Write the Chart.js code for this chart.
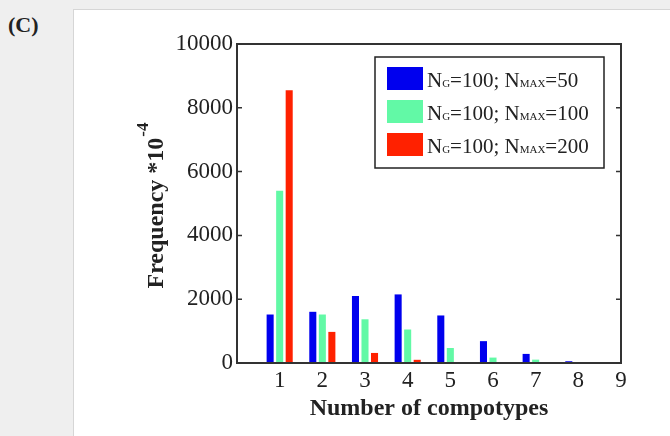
<!DOCTYPE html>
<html>
<head>
<meta charset="utf-8">
<script src="https://cdn.jsdelivr.net/npm/chart.js@4.4.1/dist/chart.umd.min.js"></script>
<style>
  html, body { margin: 0; padding: 0; }
  body { width: 670px; height: 436px; background: #efefef; position: relative; overflow: hidden; }
  #label { position: absolute; left: 8px; top: 12px; font: bold 22px "Liberation Serif", serif; color: #222; }
  #panel { position: absolute; left: 73px; top: 9px; width: 597px; height: 427px; background: #fff;
           border-left: 1px solid #d6d6d6; border-top: 1px solid #d6d6d6; }
  #panel canvas { position: absolute; left: 0; top: 0; }
</style>
</head>
<body>
<div id="label">(C)</div>
<div id="panel"><canvas id="grafica" width="597" height="427"></canvas></div>
<script>
// --- datos ---
const categorias = [1, 2, 3, 4, 5, 6, 7, 8, 9];
const nmax50  = [1520, 1605, 2100, 2150, 1490, 685, 285, 55, 10];
const nmax100 = [5400, 1520, 1370, 1050, 470, 170, 105, 30, 5];
const nmax200 = [8550, 975, 315, 100, 10, 0, 0, 0, 0];
const ticksY = [0, 2000, 4000, 6000, 8000, 10000];

const series = [
  { nmax: '50',  valores: nmax50,  color: '#0000ee' },
  { nmax: '100', valores: nmax100, color: '#62f9a6' },
  { nmax: '200', valores: nmax200, color: '#ff2100' }
];

const fuente = '"Liberation Serif", "DejaVu Serif", serif';

// caja, marcas interiores, leyenda y titulo del eje Y (estilo MATLAB)
const estiloMatlab = {
  id: 'estiloMatlab',
  afterDatasetsDraw(chart) {
    const { ctx, chartArea: a, scales } = chart;
    ctx.save();
    // caja
    ctx.strokeStyle = '#333';
    ctx.lineWidth = 2;
    ctx.strokeRect(a.left, a.top, a.right - a.left, a.bottom - a.top);
    // marcas en Y (izquierda y derecha, hacia dentro)
    ctx.lineWidth = 1.5;
    ticksY.forEach(v => {
      const y = scales.y.getPixelForValue(v);
      ctx.beginPath();
      ctx.moveTo(a.left, y); ctx.lineTo(a.left + 5, y);
      ctx.moveTo(a.right, y); ctx.lineTo(a.right - 5, y);
      ctx.stroke();
    });

    // leyenda
    const w = 229, h = 111;
    const bx = a.right - 17 - w, by = a.top + 13;
    ctx.fillStyle = '#fff';
    ctx.fillRect(bx, by, w, h);
    ctx.strokeStyle = '#222';
    ctx.lineWidth = 1.5;
    ctx.strokeRect(bx, by, w, h);
    series.forEach((s, i) => {
      const ry = by + 10 + i * 33;
      ctx.fillStyle = s.color;
      ctx.fillRect(bx + 12, ry, 36, 23);
      let x = bx + 52;
      const base = ry + 20;
      const partes = [
        ['N', 21], ['G', 11], ['=100; N', 21], ['MAX', 11], ['=' + s.nmax, 21]
      ];
      ctx.fillStyle = '#222';
      ctx.textBaseline = 'alphabetic';
      ctx.textAlign = 'left';
      partes.forEach(p => {
        ctx.font = p[1] + 'px ' + fuente;
        ctx.fillText(p[0], x, base);
        x += ctx.measureText(p[0]).width;
      });
    });

    // titulo eje Y con exponente
    ctx.translate(80, 196);
    ctx.rotate(-Math.PI / 2);
    ctx.fillStyle = '#222';
    ctx.font = 'bold 24px ' + fuente;
    const t1 = 'Frequency *10';
    const w1 = ctx.measureText(t1).width;
    ctx.font = 'bold 17px ' + fuente;
    const t2 = '-4';
    const w2 = ctx.measureText(t2).width;
    const x0 = -(w1 + w2) / 2;
    ctx.textBaseline = 'alphabetic';
    ctx.textAlign = 'left';
    ctx.font = 'bold 24px ' + fuente;
    ctx.fillText(t1, x0, 9);
    ctx.font = 'bold 17px ' + fuente;
    ctx.fillText(t2, x0 + w1 + 1, -6);
    ctx.restore();
  }
};

const ctx = document.getElementById('grafica').getContext('2d');

const miGrafica = new Chart(ctx, {
  type: 'bar',
  data: {
    datasets: series.map(s => ({
      label: 'NG=100; NMAX=' + s.nmax,
      data: categorias.map((c, i) => ({ x: c, y: s.valores[i] })),
      backgroundColor: s.color,
      borderWidth: 0,
      categoryPercentage: 0.67,
      barPercentage: 0.74
    }))
  },
  options: {
    responsive: false,
    animation: false,
    layout: { padding: { top: 34, right: 50, left: 0, bottom: 0 } },
    plugins: {
      legend: { display: false },
      tooltip: { enabled: false }
    },
    scales: {
      x: {
        type: 'linear',
        min: 0,
        max: 9,
        offset: false,
        grid: { display: false, drawTicks: false, offset: false },
        border: { display: false },
        ticks: {
          stepSize: 1,
          padding: 4,
          color: '#222',
          font: { family: fuente, size: 23 },
          callback: v => (v === 0 ? '' : String(v))
        },
        title: {
          display: true,
          text: 'Number of compotypes',
          color: '#222',
          font: { family: fuente, size: 24, weight: 'bold' },
          padding: { top: 0, bottom: 14 }
        },
        afterFit: scale => { scale.height = 74; }
      },
      y: {
        min: 0,
        max: 10000,
        grid: { display: false, drawTicks: false },
        border: { display: false },
        afterBuildTicks: scale => { scale.ticks = ticksY.map(v => ({ value: v })); },
        ticks: {
          padding: 4,
          color: '#222',
          font: { family: fuente, size: 23 },
          callback: v => String(v)
        },
        afterFit: scale => { scale.width = 163; }
      }
    }
  },
  plugins: [estiloMatlab]
});
</script>
</body>
</html>
